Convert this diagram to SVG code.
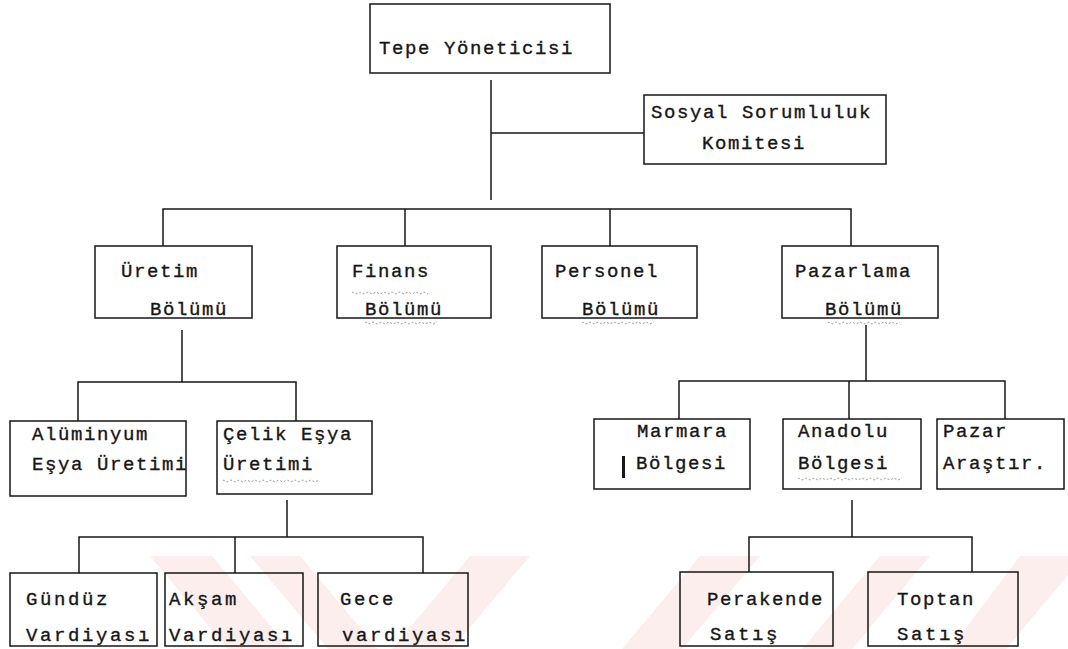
<svg xmlns="http://www.w3.org/2000/svg" width="1068" height="649" viewBox="0 0 1068 649">
  <style>
    .box { fill: none; stroke: #161616; stroke-width: 1.5; }
    .ln { fill: none; stroke: #161616; stroke-width: 1.5; }
    .t { font-family: "Liberation Mono", "DejaVu Sans Mono", monospace; font-size: 19px; fill: #161616; stroke: #161616; stroke-width: 0.35; letter-spacing: 1.6px; }
    .tw { letter-spacing: 2.6px; }
    .sq { fill: none; stroke: #9a9a9a; stroke-width: 1; stroke-dasharray: 2 2; }
    .wm { fill: #fdeeee; }
  </style>

  <rect x="0" y="0" width="1068" height="649" fill="#ffffff"/>

  <!-- faint diagonal background stripes along the bottom edge -->
  <g id="background-stripes">
    <polygon class="wm" points="150,556 212,556 290,649 228,649"/>
    <polygon class="wm" points="250,556 300,556 378,649 328,649"/>
    <polygon class="wm" points="470,556 530,556 452,649 392,649"/>
    <polygon class="wm" points="700,556 760,556 682,649 622,649"/>
    <polygon class="wm" points="880,556 930,556 852,649 802,649"/>
    <polygon class="wm" points="1020,556 1068,556 1068,575 1006,649 950,649"/>
  </g>

  <!-- connectors -->
  <g id="connectors">
    <!-- top manager to committee and departments -->
    <path class="ln" d="M491,80 V200"/>
    <path class="ln" d="M491,133 H644"/>
    <path class="ln" d="M163,246 V209 H851 V246"/>
    <path class="ln" d="M405,209 V246"/>
    <path class="ln" d="M610,209 V246"/>
    <!-- production branch -->
    <path class="ln" d="M182,330 V382"/>
    <path class="ln" d="M78,421 V382 H296 V421"/>
    <path class="ln" d="M287,500 V537"/>
    <path class="ln" d="M79,573 V537 H423 V573"/>
    <path class="ln" d="M235,537 V573"/>
    <!-- marketing branch -->
    <path class="ln" d="M866,325 V381"/>
    <path class="ln" d="M679,419 V381 H1005 V419"/>
    <path class="ln" d="M849,381 V419"/>
    <path class="ln" d="M852,500 V537"/>
    <path class="ln" d="M749,572 V537 H972 V572"/>
  </g>

  <g id="tepe-yoneticisi">
    <rect class="box" x="370" y="4" width="240" height="69"/>
    <text class="t" x="379" y="54">Tepe Yöneticisi</text>
  </g>

  <g id="sosyal-sorumluluk">
    <rect class="box" x="644" y="95" width="242" height="69"/>
    <text class="t" x="651" y="118">Sosyal Sorumluluk</text>
    <text class="t" x="702" y="149">Komitesi</text>
  </g>

  <g id="uretim-bolumu">
    <rect class="box" x="95" y="246" width="157" height="72"/>
    <text class="t" x="121" y="277">Üretim</text>
    <text class="t" x="150" y="315">Bölümü</text>
  </g>

  <g id="finans-bolumu">
    <rect class="box" x="337" y="246" width="154" height="72"/>
    <text class="t" x="352" y="277">Finans</text>
    <text class="t" x="365" y="315">Bölümü</text>
    <path class="sq" d="M352,292 l4,2 l4,-2 l4,2 l4,-2 l4,2 l4,-2 l4,2 l4,-2 l4,2 l4,-2 l4,2 l4,-2 l4,2 l4,-2 l4,2 l4,-2 l4,2 l4,-2 l4,2"/>
    <path class="sq" d="M365,322 l4,2 l4,-2 l4,2 l4,-2 l4,2 l4,-2 l4,2 l4,-2 l4,2 l4,-2 l4,2 l4,-2 l4,2 l4,-2 l4,2 l4,-2 l4,2 l4,-2"/>
  </g>

  <g id="personel-bolumu">
    <rect class="box" x="542" y="246" width="155" height="72"/>
    <text class="t" x="555" y="277">Personel</text>
    <text class="t" x="582" y="315">Bölümü</text>
    <path class="sq" d="M582,322 l4,2 l4,-2 l4,2 l4,-2 l4,2 l4,-2 l4,2 l4,-2 l4,2 l4,-2 l4,2 l4,-2 l4,2 l4,-2 l4,2 l4,-2 l4,2 l4,-2"/>
  </g>

  <g id="pazarlama-bolumu">
    <rect class="box" x="782" y="246" width="156" height="72"/>
    <text class="t" x="795" y="277">Pazarlama</text>
    <text class="t" x="825" y="315">Bölümü</text>
    <path class="sq" d="M828,322 l4,2 l4,-2 l4,2 l4,-2 l4,2 l4,-2 l4,2 l4,-2 l4,2 l4,-2 l4,2 l4,-2 l4,2 l4,-2 l4,2 l4,-2 l4,2 l4,-2"/>
  </g>

  <g id="aluminyum-esya">
    <rect class="box" x="10" y="421" width="176" height="75"/>
    <text class="t" x="32" y="440">Alüminyum</text>
    <text class="t" x="32" y="470">Eşya Üretimi</text>
  </g>

  <g id="celik-esya">
    <rect class="box" x="217" y="421" width="155" height="73"/>
    <text class="t" x="223" y="440">Çelik Eşya</text>
    <text class="t" x="223" y="470">Üretimi</text>
    <path class="sq" d="M223,480 l4,2 l4,-2 l4,2 l4,-2 l4,2 l4,-2 l4,2 l4,-2 l4,2 l4,-2 l4,2 l4,-2 l4,2 l4,-2 l4,2 l4,-2 l4,2 l4,-2 l4,2 l4,-2 l4,2 l4,-2 l4,2 l4,-2"/>
  </g>

  <g id="marmara-bolgesi">
    <rect class="box" x="594" y="419" width="156" height="70"/>
    <text class="t" x="637" y="437">Marmara</text>
    <text class="t" x="636" y="469">Bölgesi</text>
    <rect x="622" y="456" width="3" height="22" fill="#161616"/>
  </g>

  <g id="anadolu-bolgesi">
    <rect class="box" x="783" y="419" width="138" height="70"/>
    <text class="t" x="798" y="437">Anadolu</text>
    <text class="t" x="798" y="469">Bölgesi</text>
    <path class="sq" d="M798,478 l4,2 l4,-2 l4,2 l4,-2 l4,2 l4,-2 l4,2 l4,-2 l4,2 l4,-2 l4,2 l4,-2 l4,2 l4,-2 l4,2 l4,-2 l4,2 l4,-2 l4,2 l4,-2 l4,2 l4,-2 l4,2 l4,-2 l4,2 l4,-2"/>
  </g>

  <g id="pazar-arastirma">
    <rect class="box" x="937" y="419" width="127" height="70"/>
    <text class="t" x="943" y="437">Pazar</text>
    <text class="t" x="943" y="469">Araştır.</text>
  </g>

  <g id="gunduz-vardiyasi">
    <rect class="box" x="10" y="573" width="147" height="73"/>
    <text class="t tw" x="26" y="605">Gündüz</text>
    <text class="t tw" x="26" y="641">Vardiyası</text>
  </g>

  <g id="aksam-vardiyasi">
    <rect class="box" x="165" y="573" width="138" height="73"/>
    <text class="t tw" x="169" y="605">Akşam</text>
    <text class="t tw" x="169" y="641">Vardiyası</text>
  </g>

  <g id="gece-vardiyasi">
    <rect class="box" x="318" y="573" width="150" height="73"/>
    <text class="t tw" x="340" y="605">Gece</text>
    <text class="t tw" x="342" y="641">vardiyası</text>
  </g>

  <g id="perakende-satis">
    <rect class="box" x="680" y="572" width="153" height="74"/>
    <text class="t" x="707" y="605">Perakende</text>
    <text class="t tw" x="710" y="640">Satış</text>
  </g>

  <g id="toptan-satis">
    <rect class="box" x="868" y="572" width="150" height="74"/>
    <text class="t" x="897" y="605">Toptan</text>
    <text class="t tw" x="897" y="640">Satış</text>
  </g>
</svg>
